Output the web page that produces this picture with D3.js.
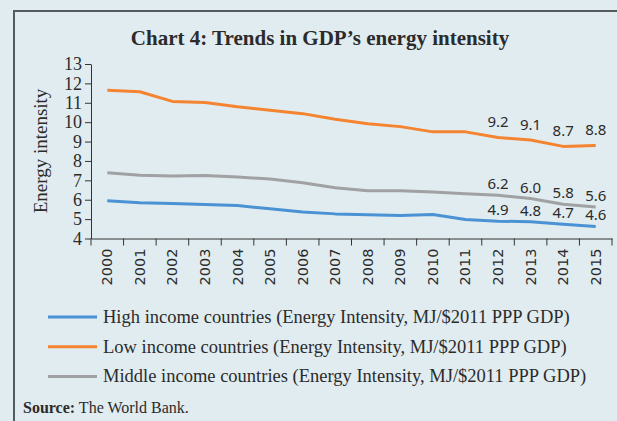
<!DOCTYPE html>
<html>
<head>
<meta charset="utf-8">
<script src="https://cdn.jsdelivr.net/npm/d3@7"></script>
<style>
  body { margin: 0; background: #e1ecf0; }
  svg { display: block; }
</style>
</head>
<body>
<div id="chart"></div>
<script>
const years = ["2000", "2001", "2002", "2003", "2004", "2005", "2006", "2007",
  "2008", "2009", "2010", "2011", "2012", "2013", "2014", "2015"];
const highIncome = [5.95, 5.85, 5.8, 5.76, 5.7, 5.53, 5.37, 5.27, 5.22, 5.18, 5.24, 4.98, 4.89, 4.87, 4.74, 4.62];
const lowIncome = [11.65, 11.57, 11.07, 11.02, 10.8, 10.62, 10.44, 10.15, 9.92, 9.77, 9.5, 9.5, 9.21, 9.08, 8.75, 8.8];
const middleIncome = [7.39, 7.26, 7.22, 7.25, 7.17, 7.07, 6.87, 6.62, 6.46, 6.46, 6.4, 6.31, 6.23, 6.06, 5.77, 5.62];
const highLabels = [null, null, null, null, null, null, null, null, null, null, null, null, "4.9", "4.8", "4.7", "4.6"];
const lowLabels = [null, null, null, null, null, null, null, null, null, null, null, null, "9.2", "9.1", "8.7", "8.8"];
const middleLabels = [null, null, null, null, null, null, null, null, null, null, null, null, "6.2", "6.0", "5.8", "5.6"];
const yTicks = [4, 5, 6, 7, 8, 9, 10, 11, 12, 13];

const COLORS = {
  high: "#4a92d3",
  low: "#f58430",
  middle: "#a0a1a2",
  axis: "#333",
  text: "#2b2b2b",
  frame: "#555a5e",
};

const series = [
  { name: "High income countries (Energy Intensity, MJ/$2011 PPP GDP)", values: highIncome, labels: highLabels, color: COLORS.high, dy: -6 },
  { name: "Low income countries (Energy Intensity, MJ/$2011 PPP GDP)", values: lowIncome, labels: lowLabels, color: COLORS.low, dy: -10 },
  { name: "Middle income countries (Energy Intensity, MJ/$2011 PPP GDP)", values: middleIncome, labels: middleLabels, color: COLORS.middle, dy: -6 },
];

const width = 617;
const height = 421;
const serif = "'Liberation Serif', 'DejaVu Serif', serif";
const sans = "'DejaVu Sans', sans-serif";
const labelFont = "'Noto Sans', 'DejaVu Sans', sans-serif";

const svg = d3.select("#chart")
  .append("svg")
  .attr("width", width)
  .attr("height", height);

// frame
svg.append("path")
  .attr("d", `M14,${height + 2} V11 H${width + 2}`)
  .attr("fill", "none")
  .attr("stroke", COLORS.frame)
  .attr("stroke-width", 2);

svg.append("text")
  .attr("x", 320)
  .attr("y", 45)
  .attr("text-anchor", "middle")
  .style("font-family", serif)
  .style("font-size", "21px")
  .style("font-weight", "bold")
  .style("fill", COLORS.text)
  .text("Chart 4: Trends in GDP\u2019s energy intensity");

const x = d3.scaleBand().domain(years).range([91, 612]);
const y = d3.scaleLinear().domain([4, 13]).range([238.5, 64]);

const yAxis = svg.append("g")
  .attr("transform", "translate(91,0)")
  .call(d3.axisLeft(y).tickValues(yTicks).tickSize(6).tickPadding(3).tickSizeOuter(0));

const xAxis = svg.append("g")
  .attr("transform", "translate(0,238.5)")
  .call(d3.axisBottom(x).tickSize(0).tickFormat(""));

// ticks at band edges
const edges = years.map((yr) => x(yr)).concat([x.range()[1]]);
xAxis.selectAll(".edge")
  .data(edges)
  .join("line")
  .attr("class", "edge")
  .attr("x1", (d) => d)
  .attr("x2", (d) => d)
  .attr("y1", 0)
  .attr("y2", 7)
  .attr("stroke", COLORS.axis);

xAxis.selectAll(".yr")
  .data(years)
  .join("text")
  .attr("class", "yr")
  .attr("transform", (d) => `translate(${x(d) + x.bandwidth() / 2 + 5},10) rotate(-90)`)
  .attr("text-anchor", "end")
  .style("font-family", sans)
  .style("font-size", "14.5px")
  .style("fill", COLORS.text)
  .text((d) => d);

[yAxis, xAxis].forEach((g) => {
  g.select(".domain").attr("stroke", COLORS.axis);
  g.selectAll(".tick line").attr("stroke", COLORS.axis);
});
yAxis.attr("font-size", null);
yAxis.selectAll(".tick text")
  .attr("font-size", "18px")
  .attr("font-family", serif)
  .attr("fill", COLORS.text);

svg.append("text")
  .attr("transform", "translate(47,151) rotate(-90)")
  .attr("text-anchor", "middle")
  .style("font-family", serif)
  .style("font-size", "19px")
  .style("fill", COLORS.text)
  .text("Energy intensity");

const cx = (i) => x(years[i]) + x.bandwidth() / 2;
const line = d3.line()
  .x((d, i) => cx(i))
  .y((d) => y(d));

svg.selectAll(".series")
  .data(series)
  .join("path")
  .attr("class", "series")
  .attr("d", (s) => line(s.values))
  .attr("fill", "none")
  .attr("stroke", (s) => s.color)
  .attr("stroke-width", 3)
  .attr("stroke-linejoin", "round");

series.forEach((s) => {
  svg.append("g")
    .selectAll("text")
    .data(s.values.map((v, i) => ({ v, i, label: s.labels[i] })).filter((d) => d.label))
    .join("text")
    .attr("x", (d) => cx(d.i))
    .attr("y", (d) => y(d.v) + s.dy)
    .attr("text-anchor", "middle")
    .style("font-family", labelFont)
    .style("font-size", "15px")
    .style("fill", COLORS.text)
    .text((d) => d.label);
});

const legend = svg.append("g")
  .selectAll("g")
  .data(series)
  .join("g")
  .attr("transform", (d, i) => `translate(48,${317 + i * 29.7})`);

legend.append("line")
  .attr("x1", 0)
  .attr("x2", 49)
  .attr("stroke", (d) => d.color)
  .attr("stroke-width", 3);

legend.append("text")
  .attr("x", 55)
  .attr("y", 6)
  .style("font-family", serif)
  .style("font-size", "18.5px")
  .style("fill", COLORS.text)
  .text((d) => d.name);

const source = svg.append("text")
  .attr("x", 23)
  .attr("y", 413)
  .style("font-family", serif)
  .style("font-size", "16px")
  .style("fill", COLORS.text);
source.append("tspan").style("font-weight", "bold").text("Source:");
source.append("tspan").text(" The World Bank.");
</script>
</body>
</html>
